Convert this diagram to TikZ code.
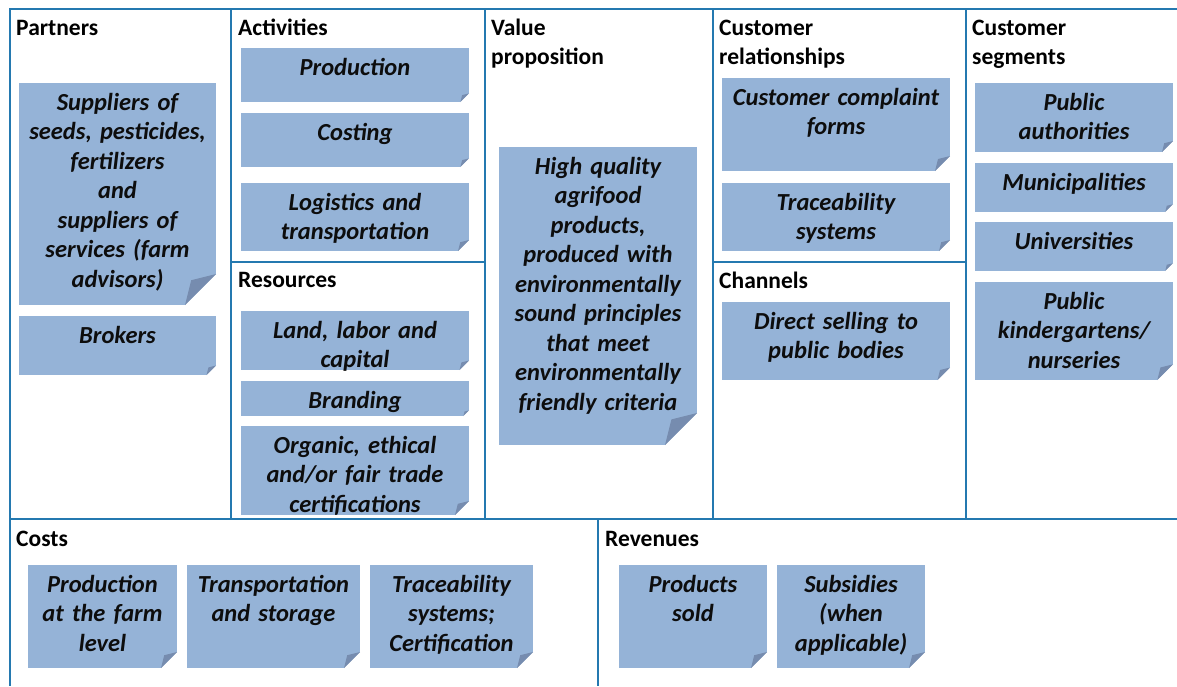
\documentclass[tikz,border=0pt]{standalone}
\usepackage{fontspec}
\setmainfont{Carlito}
\usepackage{tikz}
\usepackage{xcolor}
\usetikzlibrary{positioning}

\definecolor{gridblue}{RGB}{36,121,176}
\definecolor{notefill}{RGB}{149,179,215}
\definecolor{notefold}{RGB}{118,140,175}

\tikzset{
  canvas/.style={line width=2.6pt, draw=gridblue},
  heading/.style={anchor=base west, inner sep=0pt, text width=230pt, align=left,
    font=\fontsize{23.5}{29.5}\selectfont\bfseries},
  note/.style={fill=notefill, anchor=north west, inner sep=0pt, outer sep=0pt},
  notetext/.style={anchor=base, inner sep=0pt, text width=260pt, align=center,
    text=black!95, font=\fontsize{24.5}{29.5}\selectfont\bfseries\itshape},
}

\begin{document}
\begin{tikzpicture}[x=1pt, y=-1pt]
    \useasboundingbox (0,0) rectangle (1177,686);
    % canvas grid
    \draw[canvas] (1177,9) -- (10,9) -- (10,686);
    \foreach \x in {231,485,713,966}
        \draw[canvas] (\x,9) -- (\x,519);
    \draw[canvas] (10,519) -- (1177,519);
    \draw[canvas] (598,519) -- (598,686);
    \draw[canvas] (231,262) -- (485,262);
    \draw[canvas] (713,262) -- (966,262);

    % headings
    \node[heading] (hpart) at (16,35) {Partners};
    \node[heading] (hact) at (238,35) {Activities};
    \node[heading] (hval) at (491,35) {Value\\proposition};
    \node[heading] (hrel) at (719,35) {Customer\\relationships};
    \node[heading] (hseg) at (972,35) {Customer\\segments};
    \node[heading] (hres) at (238,287) {Resources};
    \node[heading] (hchan) at (719,288) {Channels};
    \node[heading] (hcost) at (16,546) {Costs};
    \node[heading] (hrev) at (605,546) {Revenues};

    % sticky notes
    \node[note, minimum width=197pt, minimum height=222pt] (sup) at (19,83) {};
    \node[note, minimum width=197pt, minimum height=59pt] (brk) at (19,316) {};
    \node[note, minimum width=228pt, minimum height=54pt] (prod) at (241,48) {};
    \node[note, minimum width=228pt, minimum height=54pt] (cost) at (241,113) {};
    \node[note, minimum width=228pt, minimum height=68pt] (logi) at (241,183) {};
    \node[note, minimum width=228pt, minimum height=59pt] (land) at (241,311) {};
    \node[note, minimum width=228pt, minimum height=35pt] (brand) at (241,381) {};
    \node[note, minimum width=228pt, minimum height=89pt] (org) at (241,426) {};
    \node[note, minimum width=198pt, minimum height=298pt] (val) at (499,147) {};
    \node[note, minimum width=228pt, minimum height=93pt] (ccf) at (722,78) {};
    \node[note, minimum width=228pt, minimum height=68pt] (trc) at (722,183) {};
    \node[note, minimum width=228pt, minimum height=78pt] (dir) at (722,302) {};
    \node[note, minimum width=198pt, minimum height=69pt] (pub) at (975,83) {};
    \node[note, minimum width=198pt, minimum height=49pt] (mun) at (975,163) {};
    \node[note, minimum width=198pt, minimum height=49pt] (uni) at (975,222) {};
    \node[note, minimum width=198pt, minimum height=98pt] (kin) at (975,282) {};
    \node[note, minimum width=149pt, minimum height=103pt] (cfarm) at (28,565) {};
    \node[note, minimum width=173pt, minimum height=103pt] (ctrans) at (187,565) {};
    \node[note, minimum width=163pt, minimum height=103pt] (ctrace) at (370,565) {};
    \node[note, minimum width=148pt, minimum height=103pt] (rsold) at (619,565) {};
    \node[note, minimum width=148pt, minimum height=103pt] (rsub) at (777,565) {};

    % folded corners
    \foreach \n/\s in {sup/31, brk/9.5, prod/8.6, cost/8.6, logi/11, land/9.5,
        brand/5.6, org/14, val/32, ccf/15, trc/11, dir/12.5, pub/11, mun/7.8,
        uni/7.8, kin/15.7, cfarm/16, ctrans/16, ctrace/16, rsold/16, rsub/16} {
        \fill[white] ([yshift=\s pt]\n.south east) -- (\n.south east)
            -- ([xshift=-\s pt]\n.south east) -- cycle;
        \fill[notefold] ([yshift=\s pt]\n.south east)
            -- ([xshift=-0.8*\s, yshift=0.8*\s]\n.south east)
            -- ([xshift=-\s pt]\n.south east) -- cycle;
    }

    % note texts
    \node[notetext] (supt) at ([yshift=-27pt]sup.north) {Suppliers of\\seeds, pesticides,\\fertilizers\\and\\suppliers of\\services (farm\\advisors)};
    \node[notetext] (brkt) at ([yshift=-27pt]brk.north) {Brokers};
    \node[notetext] (prodt) at ([yshift=-27pt]prod.north) {Production};
    \node[notetext] (costt) at ([yshift=-27pt]cost.north) {Costing};
    \node[notetext] (logit) at ([yshift=-27pt]logi.north) {Logistics and\\transportation};
    \node[notetext] (landt) at ([yshift=-27pt]land.north) {Land, labor and\\capital};
    \node[notetext] (brandt) at ([yshift=-27pt]brand.north) {Branding};
    \node[notetext] (orgt) at ([yshift=-27pt]org.north) {Organic, ethical\\and/or fair trade\\certifications};
    \node[notetext] (valt) at ([yshift=-27pt]val.north) {High quality\\agrifood\\products,\\produced with\\environmentally\\sound principles\\that meet\\environmentally\\friendly criteria};
    \node[notetext] (ccft) at ([yshift=-27pt]ccf.north) {Customer complaint\\forms};
    \node[notetext] (trct) at ([yshift=-27pt]trc.north) {Traceability\\systems};
    \node[notetext] (dirt) at ([yshift=-27pt]dir.north) {Direct selling to\\public bodies};
    \node[notetext] (pubt) at ([yshift=-27pt]pub.north) {Public\\authorities};
    \node[notetext] (munt) at ([yshift=-27pt]mun.north) {Municipalities};
    \node[notetext] (unit) at ([yshift=-27pt]uni.north) {Universities};
    \node[notetext] (kint) at ([yshift=-27pt]kin.north) {Public\\kindergartens/\\nurseries};
    \node[notetext] (cfarmt) at ([yshift=-27pt]cfarm.north) {Production\\at the farm\\level};
    \node[notetext] (ctranst) at ([yshift=-27pt]ctrans.north) {Transportation\\and storage};
    \node[notetext] (ctracet) at ([yshift=-27pt]ctrace.north) {Traceability\\systems;\\Certification};
    \node[notetext] (rsoldt) at ([yshift=-27pt]rsold.north) {Products\\sold};
    \node[notetext] (rsubt) at ([yshift=-27pt]rsub.north) {Subsidies\\(when\\applicable)};
\end{tikzpicture}
\end{document}
